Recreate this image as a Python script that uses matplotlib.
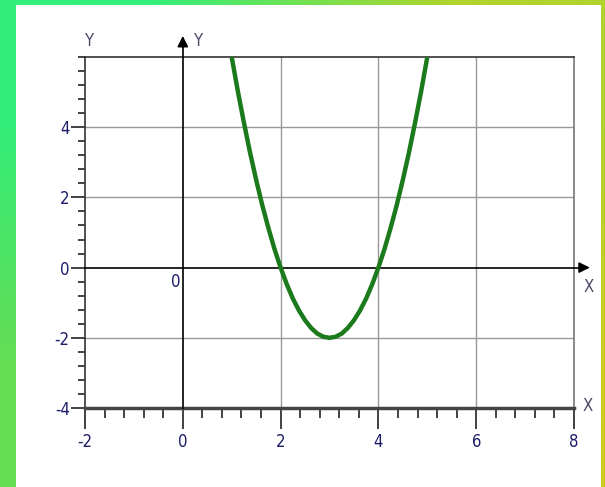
import numpy as np
import matplotlib
matplotlib.use('Agg')
from matplotlib import pyplot as plt
from matplotlib.patches import Rectangle
from matplotlib import font_manager
########################################################################
# Dados (parabola verde)
x_curva = [1.0, 1.125, 1.25, 1.375, 1.5, 1.625, 1.75, 1.875, 2.0,
           2.125, 2.25, 2.375, 2.5, 2.625, 2.75, 2.875, 3.0,
           3.125, 3.25, 3.375, 3.5, 3.625, 3.75, 3.875, 4.0,
           4.125, 4.25, 4.375, 4.5, 4.625, 4.75, 4.875, 5.0]
y_curva = [6.0, 5.03, 4.13, 3.28, 2.5, 1.78, 1.13, 0.53, 0.0,
           -0.47, -0.88, -1.22, -1.5, -1.72, -1.88, -1.97, -2.0,
           -1.97, -1.88, -1.72, -1.5, -1.22, -0.88, -0.47, 0.0,
           0.53, 1.13, 1.78, 2.5, 3.28, 4.13, 5.03, 6.0]
x_ticks = [-2, 0, 2, 4, 6, 8]
y_ticks = [-4, -2, 0, 2, 4]
x_lim = (-2, 8)
y_lim = (-4, 6)
########################################################################
W, H = 605, 487
fig = plt.figure(figsize=(W / 100, H / 100), dpi=100)

# Fonte estreita, se houver
nomes = set(f.name for f in font_manager.fontManager.ttflist)
fonte = ['Liberation Sans Narrow', 'DejaVu Sans']
estica = 'normal'
if 'Liberation Sans Narrow' not in nomes:
    fonte = ['DejaVu Sans']
    estica = 'condensed'
azul = '#1c1c6b'
cinza = '#4a4a66'
kw = dict(family=fonte, fontstretch=estica, fontsize=12)

# Fundo em gradiente verde -> amarelo
bg = fig.add_axes([0, 0, 1, 1])
cores = np.array([[[0x33, 0xee, 0x7a], [0xb0, 0xd4, 0x2c]],
                  [[0x66, 0xdd, 0x55], [0xcc, 0xcc, 0x1e]]]) / 255.0
bg.imshow(cores, extent=[0, 1, 0, 1], aspect='auto', interpolation='bilinear')
bg.set_xlim(0, 1)
bg.set_ylim(0, 1)
bg.axis('off')
bg.add_patch(Rectangle((16 / W, 0), (601 - 16) / W, (H - 5) / H,
                       facecolor='white', edgecolor='none'))

# Area do grafico
l, r, t, b = 85, 574, 57, 408
ax = fig.add_axes([l / W, (H - b) / H, (r - l) / W, (b - t) / H])
ax.set_facecolor('white')
ax.set_xlim(*x_lim)
ax.set_ylim(*y_lim)

ax.set_xticks(x_ticks)
ax.set_yticks(y_ticks)
ax.set_xticks(np.arange(-2, 8.01, 0.4), minor=True)
ax.set_yticks(np.arange(-4, 6.01, 0.4), minor=True)
ax.set_xticklabels([str(v) for v in x_ticks], color=azul, **kw)
ax.set_yticklabels([str(v) for v in y_ticks], color=azul, **kw)
ax.tick_params(axis='x', which='major', length=15, width=1.2, color='#222222', pad=3)
ax.tick_params(axis='x', which='minor', length=7, width=1.2, color='#222222')
ax.tick_params(axis='y', which='major', length=10, width=1.2, color='#222222', pad=1)
ax.tick_params(axis='y', which='minor', length=5, width=1.2, color='#222222')

# Grade
for xv in [2, 4, 6]:
    ax.axvline(xv, color='#999999', lw=1, zorder=1)
for yv in [-2, 2, 4]:
    ax.axhline(yv, color='#999999', lw=1, zorder=1)

# Bordas
ax.spines['left'].set_color('#333333')
ax.spines['top'].set_color('#333333')
ax.spines['right'].set_color('#777777')
ax.spines['bottom'].set_color('#444444')
ax.spines['bottom'].set_linewidth(2.5)
for s in ['left', 'top', 'right']:
    ax.spines[s].set_linewidth(1.2)

# Eixos pela origem com setas
ax.plot([0, 0], [y_lim[0], y_lim[1] + 0.3], color='black', lw=1.2, clip_on=False, zorder=3)
ax.plot([x_lim[0], x_lim[1] + 0.1], [0, 0], color='black', lw=1.2, clip_on=False, zorder=3)
ax.annotate('', xy=(0, 6.68), xytext=(0, 6.2), annotation_clip=False,
            arrowprops=dict(arrowstyle='-|>', color='black', lw=1.2, mutation_scale=16))
ax.annotate('', xy=(8.38, 0), xytext=(8.1, 0), annotation_clip=False,
            arrowprops=dict(arrowstyle='-|>', color='black', lw=1.2, mutation_scale=16))

# Rotulos
ax.text(-2, 6.45, 'Y', color=cinza, ha='left', va='center', clip_on=False, **kw)
ax.text(0.33, 6.45, 'Y', color=cinza, ha='center', va='center', clip_on=False, **kw)
ax.text(8.3, -0.55, 'X', color=cinza, ha='center', va='center', clip_on=False, **kw)
ax.text(8.27, 0.05 + y_lim[0], 'X', color=cinza, ha='center', va='center', clip_on=False, **kw)
ax.text(-0.05, -0.4, '0', color=azul, ha='right', va='center', **kw)

# Curva
ax.plot(x_curva, y_curva, color='#1b7a1b', lw=3.2, zorder=4, solid_capstyle='butt')

plt.savefig('out.png', dpi=100)
